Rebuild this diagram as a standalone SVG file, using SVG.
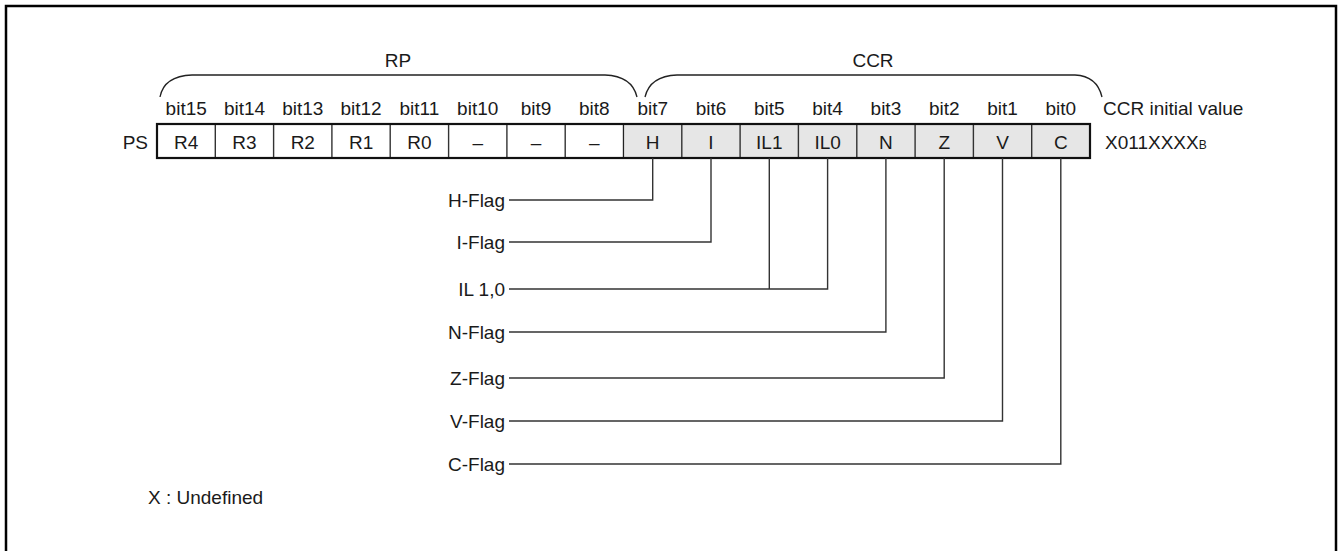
<svg xmlns="http://www.w3.org/2000/svg" width="1342" height="551" viewBox="0 0 1342 551">
<style>
text{font-family:"Liberation Sans",Arial,sans-serif;font-size:19px;fill:#1a1a1a}
.c{text-anchor:middle}
.r{text-anchor:end}
.cell{fill:#fff;stroke:#222;stroke-width:1.2}
.g{fill:#e6e6e6}
.ln{fill:none;stroke:#333;stroke-width:1.4}
.br{fill:none;stroke:#222;stroke-width:1.3}
</style>
<rect x="6" y="6" width="1330" height="570" fill="#fff" stroke="#000" stroke-width="2.5"/>
<g id="braces">
<path class="br" d="M160,97 Q164,76 192,75 L605,75 Q632,76 637,97"/>
<path class="br" d="M645,97 Q650,76 677,75 L1075,75 Q1097,76 1102,97"/>
<text class="c" x="398" y="67">RP</text>
<text class="c" x="873" y="67">CCR</text>
</g>
<g id="bits">
<text class="c" x="186.2" y="115">bit15</text>
<text class="c" x="244.5" y="115">bit14</text>
<text class="c" x="302.8" y="115">bit13</text>
<text class="c" x="361.1" y="115">bit12</text>
<text class="c" x="419.4" y="115">bit11</text>
<text class="c" x="477.7" y="115">bit10</text>
<text class="c" x="536" y="115">bit9</text>
<text class="c" x="594.3" y="115">bit8</text>
<text class="c" x="652.7" y="115">bit7</text>
<text class="c" x="711" y="115">bit6</text>
<text class="c" x="769.3" y="115">bit5</text>
<text class="c" x="827.6" y="115">bit4</text>
<text class="c" x="885.9" y="115">bit3</text>
<text class="c" x="944.2" y="115">bit2</text>
<text class="c" x="1002.5" y="115">bit1</text>
<text class="c" x="1060.8" y="115">bit0</text>
<text x="1103" y="115">CCR initial value</text>
</g>
<g id="register">
<text class="r" x="148" y="149">PS</text>
<rect class="cell" x="157" y="124" width="466.5" height="34"/>
<rect class="cell g" x="623.5" y="124" width="466.5" height="34"/>
<path class="ln" d="M215.3,124V158M273.6,124V158M331.9,124V158M390.2,124V158M448.6,124V158M506.9,124V158M565.2,124V158M681.8,124V158M740.1,124V158M798.4,124V158M856.8,124V158M915.1,124V158M973.4,124V158M1031.7,124V158"/>
<rect x="157" y="124" width="933" height="34" fill="none" stroke="#111" stroke-width="2.2"/>
<text class="c" x="186.2" y="149">R4</text>
<text class="c" x="244.5" y="149">R3</text>
<text class="c" x="302.8" y="149">R2</text>
<text class="c" x="361.1" y="149">R1</text>
<text class="c" x="419.4" y="149">R0</text>
<text class="c" x="477.7" y="149">–</text>
<text class="c" x="536" y="149">–</text>
<text class="c" x="594.3" y="149">–</text>
<text class="c" x="652.7" y="149">H</text>
<text class="c" x="711" y="149">I</text>
<text class="c" x="769.3" y="149">IL1</text>
<text class="c" x="827.6" y="149">IL0</text>
<text class="c" x="885.9" y="149">N</text>
<text class="c" x="944.2" y="149">Z</text>
<text class="c" x="1002.5" y="149">V</text>
<text class="c" x="1060.8" y="149">C</text>
<text x="1105" y="149">X011XXXX<tspan font-size="12">B</tspan></text>
</g>
<g id="connectors">
<path class="ln" d="M509,200H652.7V158"/>
<path class="ln" d="M509,242H711V158"/>
<path class="ln" d="M509,289H827.6V158M769.3,289V158"/>
<path class="ln" d="M509,332H885.9V158"/>
<path class="ln" d="M509,378H944.2V158"/>
<path class="ln" d="M509,421H1002.5V158"/>
<path class="ln" d="M509,464H1060.8V158"/>
</g>
<g id="flags">
<text class="r" x="505" y="207">H-Flag</text>
<text class="r" x="505" y="249">I-Flag</text>
<text class="r" x="505" y="296">IL 1,0</text>
<text class="r" x="505" y="339">N-Flag</text>
<text class="r" x="505" y="385">Z-Flag</text>
<text class="r" x="505" y="428">V-Flag</text>
<text class="r" x="505" y="471">C-Flag</text>
</g>
<text id="note" x="148" y="504">X : Undefined</text>
</svg>
